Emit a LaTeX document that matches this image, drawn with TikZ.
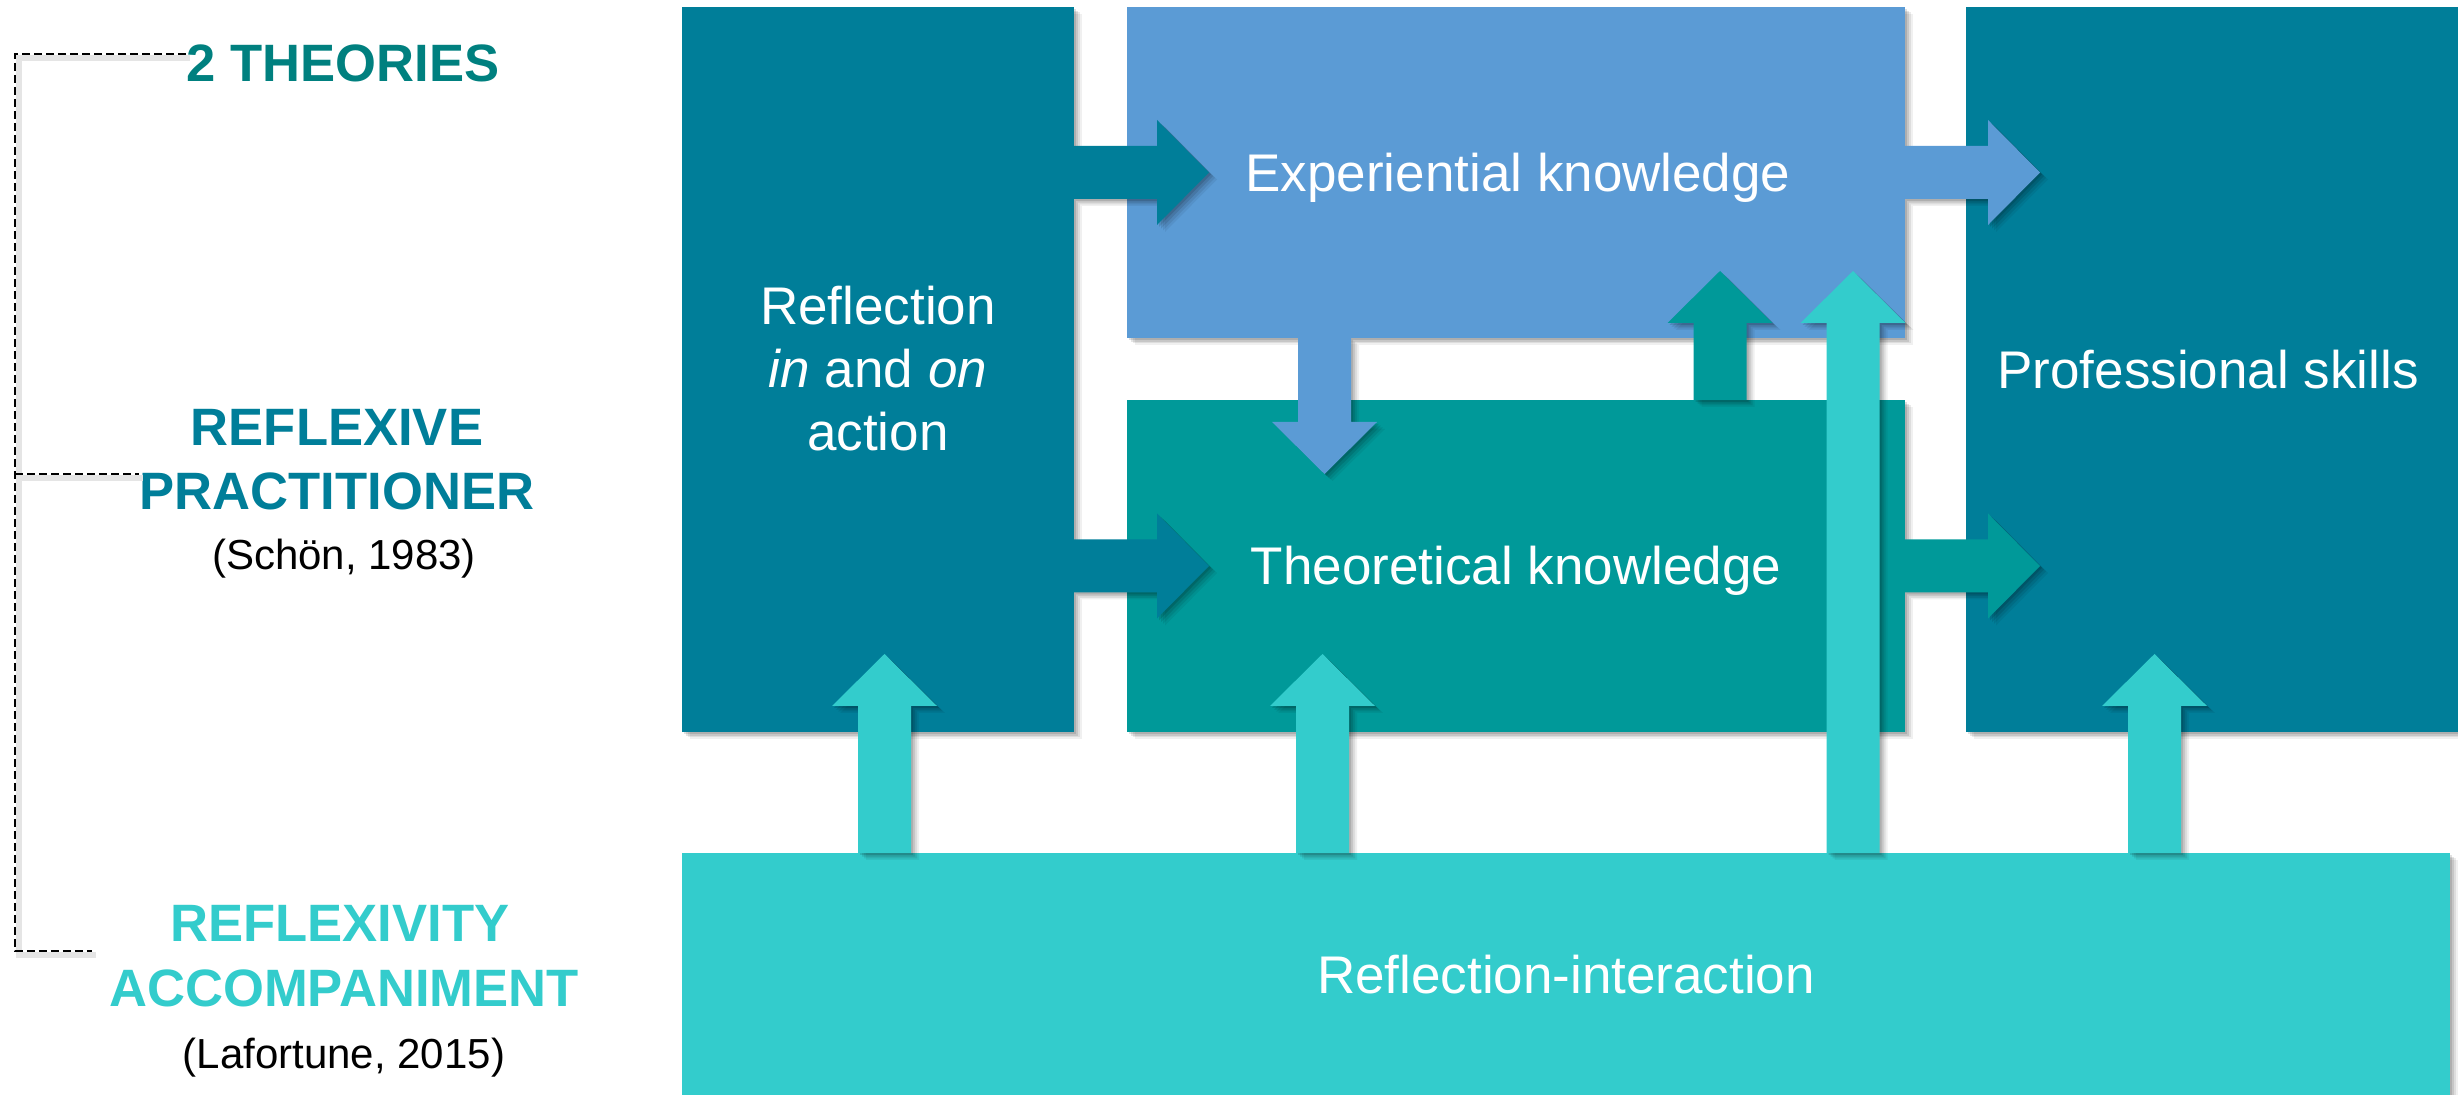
\documentclass[tikz,border=0pt]{standalone}
\usepackage{fontspec}
\setmainfont{Liberation Sans}
\usetikzlibrary{calc,shadows}
\definecolor{cRefl}{HTML}{007E99}
\definecolor{cExp}{HTML}{5B9BD5}
\definecolor{cTheo}{HTML}{009999}
\definecolor{cTurq}{HTML}{33CCCC}
\definecolor{cTitle}{HTML}{00807F}
% block arrows: #1 tail, #2 tip, #3 style
\newcommand\rarrow[3]{\fill[#3] ($(#1)+(0,-26.5)$) -- ($(#2)+(-52,-26.5)$) -- ($(#2)+(-52,-52.5)$) -- (#2) -- ($(#2)+(-52,52.5)$) -- ($(#2)+(-52,26.5)$) -- ($(#1)+(0,26.5)$) -- cycle;}
\newcommand\uarrow[3]{\fill[#3] ($(#1)+(-26.5,0)$) -- ($(#2)+(-26.5,52)$) -- ($(#2)+(-52.5,52)$) -- (#2) -- ($(#2)+(52.5,52)$) -- ($(#2)+(26.5,52)$) -- ($(#1)+(26.5,0)$) -- cycle;}
\newcommand\darrow[3]{\fill[#3] ($(#1)+(-26.5,0)$) -- ($(#2)+(-26.5,-52)$) -- ($(#2)+(-52.5,-52)$) -- (#2) -- ($(#2)+(52.5,-52)$) -- ($(#2)+(26.5,-52)$) -- ($(#1)+(26.5,0)$) -- cycle;}
\begin{document}
\begin{tikzpicture}[x=0.5pt,y=-0.5pt,
  softsh/.style={drop shadow={shadow xshift=4pt,shadow yshift=-3.5pt,opacity=0.06,fill=black},
                 drop shadow={shadow xshift=3pt,shadow yshift=-2.7pt,opacity=0.08,fill=black},
                 drop shadow={shadow xshift=2pt,shadow yshift=-1.8pt,opacity=0.10,fill=black},
                 drop shadow={shadow xshift=1pt,shadow yshift=-0.9pt,opacity=0.12,fill=black}},
  box/.style={rectangle, draw=none, inner sep=0pt, outer sep=0pt, anchor=north west, softsh},
  barrow/.style={softsh},
  btext/.style={text=white, font=\fontsize{26.5pt}{31.8pt}\selectfont, inner sep=0pt, anchor=base},
  ltitle/.style={font=\bfseries\fontsize{26.3pt}{31.5pt}\selectfont, inner sep=0pt, anchor=base},
  lcite/.style={text=black, font=\fontsize{21pt}{25pt}\selectfont, inner sep=0pt, anchor=base},
  bracketline/.style={draw=black, line width=0.9pt, dash pattern=on 4pt off 2pt,
     preaction={draw=black!10, solid, line width=3pt, transform canvas={xshift=2pt,yshift=-2pt}}}
]
\useasboundingbox (0,0) rectangle (2458,1095);

% boxes
\node[box, fill=cRefl, minimum width=196pt, minimum height=362.5pt] (refl) at (682,7) {};
\node[box, fill=cRefl, minimum width=246pt, minimum height=362.5pt] (prof) at (1966,7) {};
\node[box, fill=cExp, minimum width=389pt, minimum height=165.5pt] (exp) at (1127,7) {};
\node[box, fill=cTheo, minimum width=389pt, minimum height=166pt] (theo) at (1127,400) {};
\node[box, fill=cTurq, minimum width=884pt, minimum height=121pt] (inter) at (682,853) {};

% arrows
\rarrow{refl.east |- exp.center}{$(exp.west)+(82,0)$}{barrow, fill=cRefl}
\rarrow{refl.east |- theo.center}{$(theo.west)+(82,0)$}{barrow, fill=cRefl}
\rarrow{exp.east}{$(prof.west |- exp.east)+(74,0)$}{barrow, fill=cExp}
\rarrow{theo.east}{$(prof.west |- theo.east)+(74,0)$}{barrow, fill=cTheo}
\darrow{$(exp.south west)+(197.5,0)$}{$(theo.north west)+(197.5,74)$}{barrow, fill=cExp}
\uarrow{$(theo.north west)+(593,0)$}{$(exp.north west)+(593,264)$}{barrow, fill=cTheo}
\uarrow{$(inter.north west)+(1171,0)$}{$(exp.north west)+(726,264)$}{barrow, fill=cTurq}
\uarrow{$(inter.north west)+(202.5,0)$}{$(refl.south west)+(202.5,-78)$}{barrow, fill=cTurq}
\uarrow{$(inter.north west)+(640.5,0)$}{$(theo.south west)+(195.5,-78)$}{barrow, fill=cTurq}
\uarrow{$(inter.north west)+(1472.5,0)$}{$(prof.south west)+(188.5,-78)$}{barrow, fill=cTurq}

% box texts
\node[btext] (tRefl1) at ($(refl.center)+(0,-44.5)$) {Reflection};
\node[btext] (tRefl2) at ($(refl.center)+(0,18.5)$) {\textit{in} and \textit{on}};
\node[btext] (tRefl3) at ($(refl.center)+(0,81.5)$) {action};
\node[btext] (tExp) at ($(exp.center)+(2,19.5)$) {Experiential knowledge};
\node[btext] (tTheo) at ($(theo.center)+(0,19)$) {Theoretical knowledge};
\node[btext] (tProf) at ($(prof.center)+(-4,19)$) {Professional skills};
\node[btext] (tInter) at ($(inter.center)+(0,19)$) {Reflection-interaction};

% left texts
\node[ltitle, text=cTitle] (tTwo) at (343,81.5) {2 THEORIES};
\node[ltitle, text=cRefl] (tRefx) at (337,445.8) {REFLEXIVE};
\node[ltitle, text=cRefl] (tPract) at (337,509.8) {PRACTITIONER};
\node[lcite] (tSchon) at (344,570) {(Schön, 1983)};
\node[ltitle, text=cTurq] (tRefy) at (340,941) {REFLEXIVITY};
\node[ltitle, text=cTurq] (tAcc) at (344,1006) {ACCOMPANIMENT};
\node[lcite] (tLaf) at (344,1068) {(Lafortune, 2015)};

% bracket
\coordinate (b0) at (15,54);
\coordinate (b2) at (15,951);
\coordinate (b3) at (92,951);
\coordinate (bm) at (15,474);
\draw[bracketline] (tTwo.west |- b0) -- (b0) -- (b2) -- (b3);
\draw[bracketline] (bm) -- (tPract.west |- bm);
\end{tikzpicture}
\end{document}
